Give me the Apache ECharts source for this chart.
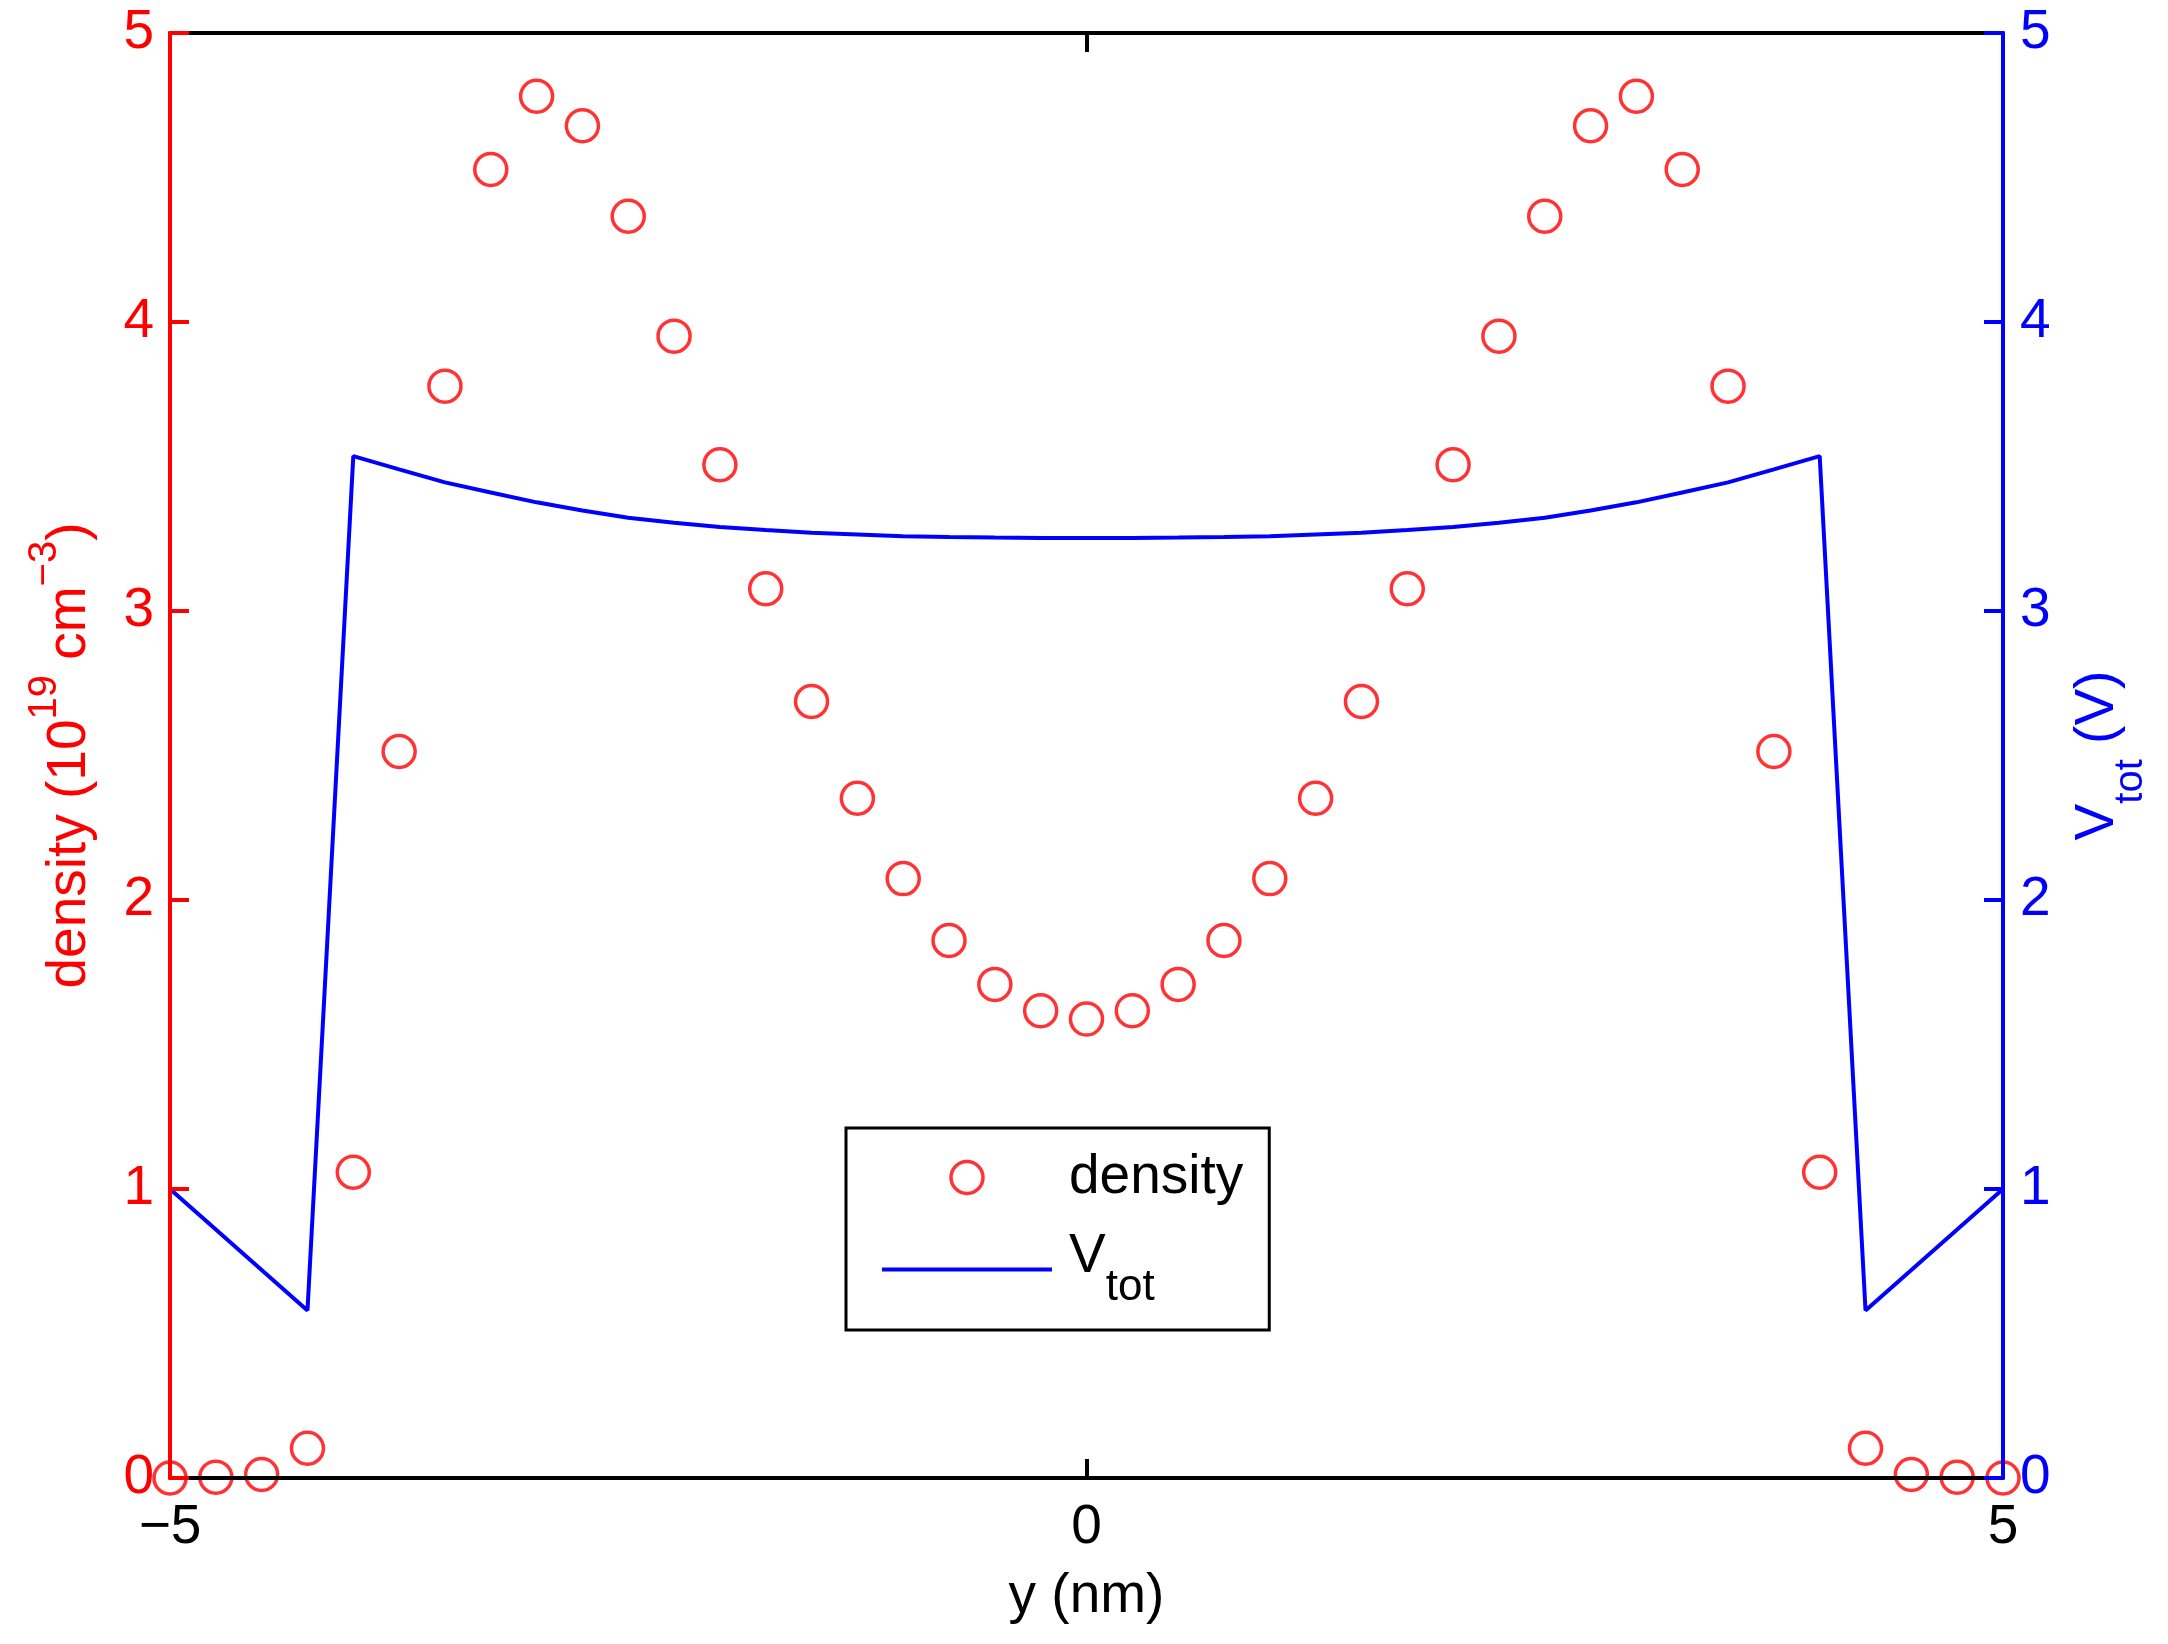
<!DOCTYPE html>
<html>
<head>
<meta charset="utf-8">
<script src="https://cdn.jsdelivr.net/npm/echarts@6/dist/echarts.min.js"></script>
<style>
html,body{margin:0;padding:0;background:#fff;}
#chart{width:2168px;height:1644px;}
</style>
</head>
<body>
<div id="chart"></div>
<script>
// ---- data ----
const yPositions = [-5, -4.75, -4.5, -4.25, -4, -3.75, -3.5, -3.25, -3, -2.75, -2.5, -2.25, -2, -1.75, -1.5, -1.25, -1, -0.75, -0.5, -0.25, 0,
  0.25, 0.5, 0.75, 1, 1.25, 1.5, 1.75, 2, 2.25, 2.5, 2.75, 3, 3.25, 3.5, 3.75, 4, 4.25, 4.5, 4.75, 5];
const densityValues = [0, 0.003, 0.012, 0.103, 1.058, 2.514, 3.778, 4.528, 4.781, 4.679, 4.366, 3.951, 3.506, 3.077, 2.687, 2.352, 2.074, 1.860, 1.708, 1.617, 1.588,
  1.617, 1.708, 1.860, 2.074, 2.352, 2.687, 3.077, 3.506, 3.951, 4.366, 4.679, 4.781, 4.528, 3.778, 2.514, 1.058, 0.103, 0.012, 0.003, 0];
const vtotValues = [1.0, 0.86, 0.72, 0.58, 3.536, 3.49, 3.445, 3.41, 3.376, 3.348, 3.323, 3.305, 3.291, 3.28, 3.271, 3.265, 3.259, 3.256, 3.254, 3.253, 3.253,
  3.253, 3.254, 3.256, 3.259, 3.265, 3.271, 3.28, 3.291, 3.305, 3.323, 3.348, 3.376, 3.41, 3.445, 3.49, 3.536, 0.58, 0.72, 0.86, 1.0];
const xTicks = [-5, 0, 5];
const yTicks = [0, 1, 2, 3, 4, 5];
const seriesNames = ['density', 'Vtot'];

const FONT = 'Liberation Sans, Arial, Helvetica, sans-serif';
const RED = '#ff0000', BLUE = '#0000ff', BLACK = '#000000';
const LW = 4;

const densityData = yPositions.map((x, i) => [x, densityValues[i]]);
const vtotData = yPositions.map((x, i) => [x, vtotValues[i]]);

const chart = echarts.init(document.getElementById('chart'), null, {renderer: 'canvas'});

function fmtNum(v) { return String(v).replace('-', '\u2212'); }

const option = {
  animation: false,
  backgroundColor: '#ffffff',
  textStyle: {fontFamily: FONT},
  grid: {left: 170, right: 165, top: 33, bottom: 166, containLabel: false, outerBoundsMode: 'none'},
  legend: {
    orient: 'vertical',
    left: 846, top: 1128,
    padding: [22, 26, 20, 34],
    itemWidth: 170, itemHeight: 32, itemGap: 24,
    borderColor: BLACK, borderWidth: 3, backgroundColor: '#ffffff',
    data: [
      {name: seriesNames[0], icon: 'circle', itemStyle: {color: 'rgba(0,0,0,0)', borderColor: RED, borderWidth: 3.5}},
      {name: seriesNames[1], itemStyle: {color: 'rgba(0,0,0,0)', borderColor: 'rgba(0,0,0,0)', borderWidth: 0, opacity: 0},
       lineStyle: {color: BLUE, width: LW}}
    ],
    formatter: function (name) {
      if (name === 'Vtot') return '{v|V}{s|tot}';
      return '{m|' + name + '}';
    },
    textStyle: {
      color: BLACK, fontFamily: FONT, fontSize: 55, padding: [0, 0, 0, 12],
      rich: {
        m: {fontSize: 55, lineHeight: 55, fontFamily: FONT, color: BLACK},
        v: {fontSize: 55, lineHeight: 55, fontFamily: FONT, color: BLACK, padding: [0, 0, 26, 0]},
        s: {fontSize: 44, lineHeight: 44, fontFamily: FONT, color: BLACK, padding: [37, 0, 0, 0]}
      }
    }
  },
  xAxis: [
    {
      type: 'value', position: 'bottom', min: -5, max: 5, interval: 5, z: 3,
      name: 'y (nm)', nameLocation: 'middle', nameGap: 91,
      nameTextStyle: {fontSize: 55, color: BLACK, fontFamily: FONT},
      axisLine: {show: true, onZero: false, lineStyle: {color: BLACK, width: LW}},
      axisTick: {show: true, inside: true, length: 19, lineStyle: {color: BLACK, width: LW}},
      axisLabel: {fontSize: 55, color: BLACK, margin: 22, fontFamily: FONT, formatter: fmtNum},
      splitLine: {show: false}
    },
    {
      type: 'value', position: 'top', min: -5, max: 5, interval: 5, z: 3,
      axisLine: {show: true, onZero: false, lineStyle: {color: BLACK, width: LW}},
      axisTick: {show: true, inside: true, length: 19, lineStyle: {color: BLACK, width: LW}},
      axisLabel: {show: false},
      splitLine: {show: false}
    }
  ],
  yAxis: [
    {
      type: 'value', position: 'left', min: 0, max: 5, interval: 1, z: 4,
      name: '{m|density (10}{s|19}{m| cm}{s|\u22123}{m|)}',
      nameLocation: 'middle', nameGap: 73, nameMoveOverlap: false,
      nameTextStyle: {
        color: RED, fontFamily: FONT, fontSize: 55,
        rich: {
          m: {fontSize: 55, lineHeight: 55, color: RED, fontFamily: FONT},
          s: {fontSize: 40, lineHeight: 40, color: RED, fontFamily: FONT, padding: [0, 0, 50, 0]}
        }
      },
      axisLine: {show: true, onZero: false, lineStyle: {color: RED, width: LW}},
      axisTick: {show: true, inside: true, length: 19, lineStyle: {color: RED, width: LW}},
      axisLabel: {fontSize: 55, color: RED, margin: 16, fontFamily: FONT},
      splitLine: {show: false}
    },
    {
      type: 'value', position: 'right', min: 0, max: 5, interval: 1, z: 4,
      name: '{m|V}{s|tot}{m| (V)}',
      nameLocation: 'middle', nameGap: 67, nameMoveOverlap: false,
      nameTextStyle: {
        color: BLUE, fontFamily: FONT, fontSize: 55,
        rich: {
          m: {fontSize: 55, lineHeight: 55, color: BLUE, fontFamily: FONT},
          s: {fontSize: 40, lineHeight: 40, color: BLUE, fontFamily: FONT, padding: [66, 0, 0, 0]}
        }
      },
      axisLine: {show: true, onZero: false, lineStyle: {color: BLUE, width: LW}},
      axisTick: {show: true, inside: true, length: 19, lineStyle: {color: BLUE, width: LW}},
      axisLabel: {fontSize: 55, color: BLUE, margin: 17, fontFamily: FONT},
      splitLine: {show: false}
    }
  ],
  series: [
    {
      name: seriesNames[0], type: 'scatter', xAxisIndex: 0, yAxisIndex: 0, z: 2,
      symbol: 'circle', symbolSize: 32, clip: false,
      itemStyle: {color: 'rgba(0,0,0,0)', borderColor: RED, borderWidth: 3.5},
      data: densityData
    },
    {
      name: seriesNames[1], type: 'line', xAxisIndex: 0, yAxisIndex: 1, z: 2,
      symbol: 'none', showSymbol: false, smooth: false,
      lineStyle: {color: BLUE, width: LW},
      itemStyle: {color: BLUE},
      data: vtotData
    }
  ]
};
chart.setOption(option);
</script>
</body>
</html>
